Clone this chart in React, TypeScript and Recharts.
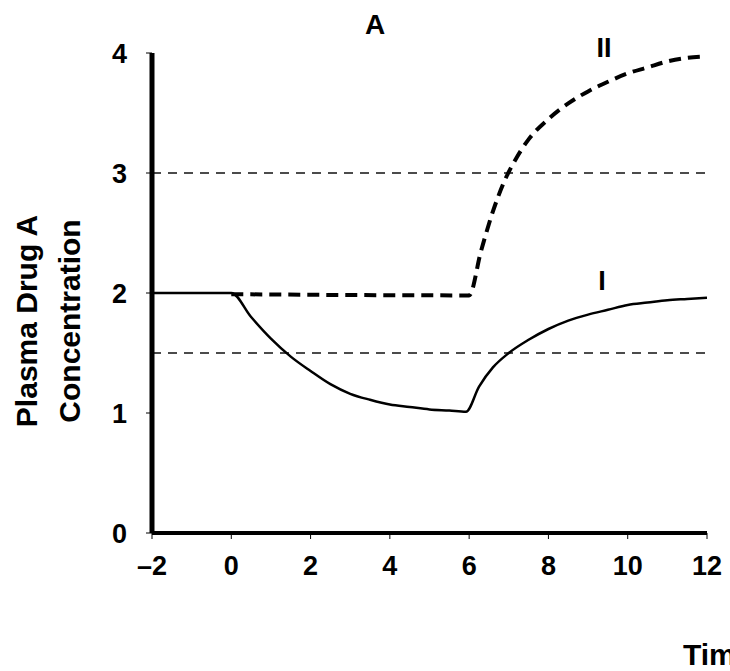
import { LineChart, Line, XAxis, YAxis, ReferenceLine, ReferenceDot } from 'recharts';

// time (x) ticks and concentration (y) ticks
const timeTicks = [-2, 0, 2, 4, 6, 8, 10, 12];
const concTicks = [0, 1, 2, 3, 4];

// therapeutic window bounds (dashed horizontals)
const upperLimit = 3;
const lowerLimit = 1.5;

// curve I: solid
const curveI = [
  { x: -2, y: 2 },
  { x: 0, y: 2 },
  { x: 0.5, y: 1.8 },
  { x: 1, y: 1.62 },
  { x: 1.5, y: 1.47 },
  { x: 2, y: 1.35 },
  { x: 2.5, y: 1.24 },
  { x: 3, y: 1.16 },
  { x: 3.5, y: 1.11 },
  { x: 4, y: 1.07 },
  { x: 4.5, y: 1.05 },
  { x: 5, y: 1.03 },
  { x: 5.5, y: 1.02 },
  { x: 5.92, y: 1.01 },
  { x: 6.25, y: 1.22 },
  { x: 6.6, y: 1.38 },
  { x: 7, y: 1.5 },
  { x: 7.5, y: 1.61 },
  { x: 8, y: 1.7 },
  { x: 8.5, y: 1.77 },
  { x: 9, y: 1.82 },
  { x: 9.5, y: 1.86 },
  { x: 10, y: 1.9 },
  { x: 10.5, y: 1.92 },
  { x: 11, y: 1.94 },
  { x: 11.5, y: 1.95 },
  { x: 12, y: 1.96 },
];

// curve II: dashed
const curveII = [
  { x: 0, y: 1.99 },
  { x: 6, y: 1.98 },
  { x: 6.3, y: 2.35 },
  { x: 6.6, y: 2.68 },
  { x: 6.9, y: 2.94 },
  { x: 7.2, y: 3.13 },
  { x: 7.5, y: 3.28 },
  { x: 8, y: 3.45 },
  { x: 8.5, y: 3.58 },
  { x: 9, y: 3.68 },
  { x: 9.5, y: 3.76 },
  { x: 10, y: 3.83 },
  { x: 10.5, y: 3.88 },
  { x: 11, y: 3.93 },
  { x: 11.5, y: 3.96 },
  { x: 11.9, y: 3.97 },
];

const FONT = '"Liberation Sans", Arial, sans-serif';

const tickStyle = { fill: '#000', fontSize: 27, fontWeight: 700, fontFamily: FONT };

const formatTime = (v: number) => (v < 0 ? '\u2013' + Math.abs(v) : String(v));

const curveLabel = (text: string) => (props: any) => {
  const { viewBox } = props;
  return (
    <text
      x={viewBox.x}
      y={viewBox.y}
      textAnchor="middle"
      dominantBaseline="central"
      fontSize={27}
      fontWeight={700}
      fontFamily={FONT}
      fill="#000"
    >
      {text}
    </text>
  );
};

export default function App() {
  return (
    <div
      style={{
        position: 'absolute',
        left: 0,
        top: 0,
        width: 730,
        height: 671,
        overflow: 'hidden',
        background: '#fff',
      }}
    >
      <LineChart width={730} height={671} margin={{ top: 53, right: 23, bottom: 98, left: 92 }}>
        <XAxis
          type="number"
          dataKey="x"
          domain={[-2, 12]}
          ticks={timeTicks}
          tickFormatter={formatTime}
          allowDataOverflow
          height={40}
          axisLine={{ stroke: '#000', strokeWidth: 4 }}
          tickLine={{ stroke: '#000', strokeWidth: 1 }}
          tickSize={6}
          tickMargin={17}
          tick={tickStyle}
        />
        <YAxis
          type="number"
          dataKey="y"
          domain={[0, 4]}
          ticks={concTicks}
          allowDataOverflow
          width={60}
          axisLine={{ stroke: '#000', strokeWidth: 5 }}
          tickLine={{ stroke: '#000', strokeWidth: 1 }}
          tickSize={6}
          tickMargin={19}
          tick={tickStyle}
        />
        <ReferenceLine y={upperLimit} stroke="#111" strokeWidth={1.5} strokeDasharray="9 7" />
        <ReferenceLine y={lowerLimit} stroke="#111" strokeWidth={1.5} strokeDasharray="9 7" />
        <Line
          data={curveI}
          dataKey="y"
          type="monotone"
          stroke="#000"
          strokeWidth={2.5}
          dot={false}
          activeDot={false}
          isAnimationActive={false}
        />
        <Line
          data={curveII}
          dataKey="y"
          type="monotone"
          stroke="#000"
          strokeWidth={4}
          strokeDasharray="12 7"
          dot={false}
          activeDot={false}
          isAnimationActive={false}
        />
        <ReferenceDot x={9.4} y={4.04} r={0} fill="none" stroke="none" ifOverflow="visible" label={curveLabel('II')} />
        <ReferenceDot x={9.35} y={2.1} r={0} fill="none" stroke="none" ifOverflow="visible" label={curveLabel('I')} />
      </LineChart>
      <svg
        width={730}
        height={671}
        style={{ position: 'absolute', left: 0, top: 0, pointerEvents: 'none' }}
      >
        <g fontFamily={FONT} fontWeight={700} fill="#000">
          <text x={375} y={34} textAnchor="middle" fontSize={28}>
            A
          </text>
          <text x={37} y={321} textAnchor="middle" fontSize={30} transform="rotate(-90 37 321)">
            Plasma Drug A
          </text>
          <text x={80} y={321} textAnchor="middle" fontSize={30} transform="rotate(-90 80 321)">
            Concentration
          </text>
          <text x={683} y={665} fontSize={30}>
            Time
          </text>
        </g>
      </svg>
    </div>
  );
}
